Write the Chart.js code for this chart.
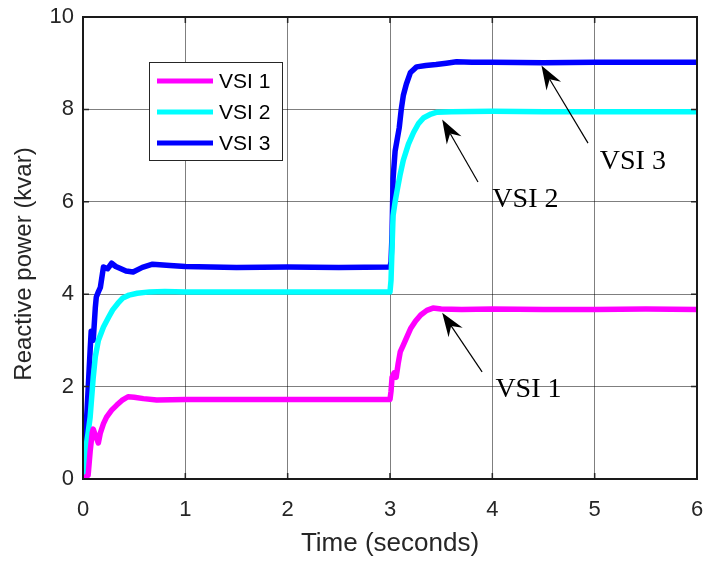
<!DOCTYPE html>
<html>
<head>
<meta charset="utf-8">
<script src="https://cdn.jsdelivr.net/npm/chart.js@4.4.1/dist/chart.umd.min.js"></script>
<style>
  html, body { margin: 0; padding: 0; background: #fff; }
  #wrap { width: 708px; height: 563px; }
</style>
</head>
<body>
<div id="wrap"><canvas id="qChart" width="708" height="563"></canvas></div>
<script>
const seriesLabels = ['VSI 1', 'VSI 2', 'VSI 3'];
const seriesColors = ['#ff00ff', '#00ffff', '#0000ff'];

// VSI 1
const vsi1Time = [0, 0.03, 0.05, 0.07, 0.09, 0.1, 0.12, 0.15, 0.17, 0.2, 0.23, 0.28, 0.33, 0.38, 0.44, 0.5, 0.59, 0.72, 1, 1.5, 2, 2.5, 3.0,
  3.01, 3.02, 3.04, 3.06, 3.08, 3.1, 3.13, 3.16, 3.2, 3.25, 3.3, 3.36, 3.42, 3.5, 3.7, 4, 4.5, 5, 5.5, 6];
const vsi1Q = [0, 0.05, 0.08, 0.6, 1.0, 1.08, 0.95, 0.78, 1.0, 1.2, 1.34, 1.49, 1.6, 1.7, 1.78, 1.77, 1.74, 1.71, 1.72, 1.72, 1.72, 1.72, 1.72,
  1.9, 2.2, 2.3, 2.2, 2.5, 2.75, 2.9, 3.05, 3.25, 3.42, 3.55, 3.65, 3.7, 3.68, 3.67, 3.68, 3.67, 3.67, 3.68, 3.67];

// VSI 2
const vsi2Time = [0, 0.03, 0.05, 0.07, 0.1, 0.12, 0.15, 0.2, 0.25, 0.29, 0.34, 0.39, 0.45, 0.53, 0.65, 0.8, 1, 1.5, 2, 2.5, 3.0,
  3.01, 3.02, 3.03, 3.05, 3.07, 3.1, 3.13, 3.18, 3.23, 3.28, 3.33, 3.4, 3.46, 3.6, 4, 4.5, 5, 5.5, 6];
const vsi2Q = [0, 0.7, 1.0, 1.34, 2.2, 2.64, 3.0, 3.29, 3.5, 3.66, 3.8, 3.92, 3.98, 4.02, 4.05, 4.06, 4.05, 4.05, 4.05, 4.05, 4.05,
  4.3, 5.0, 5.7, 6.0, 6.25, 6.6, 6.9, 7.25, 7.5, 7.7, 7.82, 7.9, 7.94, 7.95, 7.96, 7.95, 7.95, 7.95, 7.95];

// VSI 3
const vsi3Time = [0, 0.04, 0.07, 0.08, 0.09, 0.1, 0.12, 0.13, 0.15, 0.17, 0.2, 0.24, 0.28, 0.32, 0.36, 0.42, 0.49, 0.58, 0.68, 0.85, 1, 1.5, 2, 2.5, 3.0,
  3.01, 3.02, 3.03, 3.05, 3.07, 3.09, 3.11, 3.13, 3.16, 3.2, 3.26, 3.35, 3.45, 3.55, 3.65, 3.8, 4, 4.5, 5, 5.5, 6];
const vsi3Q = [0, 1.5, 2.8, 3.2, 3.15, 3.0, 3.7, 3.94, 4.05, 4.15, 4.59, 4.55, 4.67, 4.6, 4.56, 4.5, 4.48, 4.58, 4.65, 4.62, 4.6, 4.58, 4.59, 4.58, 4.59,
  4.7, 5.3, 6.5, 7.1, 7.35, 7.6, 8.0, 8.3, 8.55, 8.8, 8.92, 8.95, 8.97, 9.0, 9.03, 9.02, 9.02, 9.01, 9.02, 9.02, 9.02];

const xTicks = [0, 1, 2, 3, 4, 5, 6];
const yTicks = [0, 2, 4, 6, 8, 10];

// arrow notes in data units: tip, tail, text anchor (left, middle)
const noteLabels = ['VSI 1', 'VSI 2', 'VSI 3'];
const noteTips = [[3.51, 3.6], [3.51, 7.78], [4.48, 8.95]];
const noteTails = [[3.9, 2.32], [3.86, 6.43], [4.935, 7.27]];
const noteText = [[4.03, 1.93], [4.0, 6.04], [5.05, 6.86]];

const toPoints = (t, q) => t.map((v, i) => ({x: v, y: q[i]}));
const seriesData = [toPoints(vsi1Time, vsi1Q), toPoints(vsi2Time, vsi2Q), toPoints(vsi3Time, vsi3Q)];

const sansFont = '"Liberation Sans", Arial, Helvetica, sans-serif';
const serifFont = '"Liberation Serif", "Times New Roman", serif';

function drawArrow(ctx, x0, y0, x1, y1) {
    const ang = Math.atan2(y1 - y0, x1 - x0);
    const len = 24, half = 8.5, notch = 16;
    ctx.beginPath();
    ctx.moveTo(x0, y0);
    ctx.lineTo(x1 - Math.cos(ang) * notch, y1 - Math.sin(ang) * notch);
    ctx.stroke();
    ctx.save();
    ctx.translate(x1, y1);
    ctx.rotate(ang);
    ctx.beginPath();
    ctx.moveTo(0, 0);
    ctx.lineTo(-len, -half);
    ctx.lineTo(-notch, 0);
    ctx.lineTo(-len, half);
    ctx.closePath();
    ctx.fill();
    ctx.restore();
}

const frameAndNotes = {
    id: 'frameAndNotes',
    afterDatasetsDraw(chart) {
        const {ctx, chartArea: a, scales: {x, y}} = chart;
        ctx.save();

        // inward tick marks on all sides
        ctx.strokeStyle = '#262626';
        ctx.lineWidth = 1.5;
        ctx.beginPath();
        xTicks.forEach(v => {
            const px = x.getPixelForValue(v);
            ctx.moveTo(px, a.bottom); ctx.lineTo(px, a.bottom - 6);
            ctx.moveTo(px, a.top); ctx.lineTo(px, a.top + 6);
        });
        yTicks.forEach(v => {
            const py = y.getPixelForValue(v);
            ctx.moveTo(a.left, py); ctx.lineTo(a.left + 6, py);
            ctx.moveTo(a.right, py); ctx.lineTo(a.right - 6, py);
        });
        ctx.stroke();

        // axes box
        ctx.strokeStyle = '#1a1a1a';
        ctx.lineWidth = 2;
        ctx.strokeRect(a.left, a.top, a.width, a.height);

        // y axis title (MATLAB puts it a bit lower than chart.js would)
        ctx.save();
        ctx.translate(24, 264);
        ctx.rotate(-Math.PI / 2);
        ctx.fillStyle = '#262626';
        ctx.font = '24px ' + sansFont;
        ctx.textAlign = 'center';
        ctx.textBaseline = 'middle';
        ctx.fillText('Reactive power (kvar)', 0, 0);
        ctx.restore();

        // arrows with labels
        ctx.strokeStyle = '#000';
        ctx.fillStyle = '#000';
        ctx.lineWidth = 1.2;
        ctx.font = '28px ' + serifFont;
        ctx.textAlign = 'left';
        ctx.textBaseline = 'middle';
        noteLabels.forEach((label, i) => {
            drawArrow(ctx,
                x.getPixelForValue(noteTails[i][0]), y.getPixelForValue(noteTails[i][1]),
                x.getPixelForValue(noteTips[i][0]), y.getPixelForValue(noteTips[i][1]));
            ctx.fillText(label, x.getPixelForValue(noteText[i][0]), y.getPixelForValue(noteText[i][1]));
        });

        // legend box
        const lx = 149, ly = 62, lw = 133, lh = 98;
        ctx.fillStyle = '#fff';
        ctx.fillRect(lx, ly, lw, lh);
        ctx.strokeStyle = '#262626';
        ctx.lineWidth = 1;
        ctx.strokeRect(lx + 0.5, ly + 0.5, lw, lh);
        ctx.font = '21px ' + sansFont;
        ctx.textBaseline = 'middle';
        seriesLabels.forEach((label, i) => {
            const yy = 81 + i * 31;
            ctx.strokeStyle = seriesColors[i];
            ctx.lineWidth = 5;
            ctx.beginPath();
            ctx.moveTo(157, yy);
            ctx.lineTo(213, yy);
            ctx.stroke();
            ctx.fillStyle = '#000';
            ctx.fillText(label, 219, yy + 1);
        });

        ctx.restore();
    }
};

new Chart('qChart', {
    type: 'line',
    data: {
        datasets: seriesLabels.map((label, i) => ({
            label: label,
            data: seriesData[i],
            borderColor: seriesColors[i],
            backgroundColor: seriesColors[i],
            borderWidth: 5.5,
            pointRadius: 0,
            tension: 0,
            fill: false,
            borderJoinStyle: 'round',
            borderCapStyle: 'round'
        }))
    },
    options: {
        responsive: false,
        animation: false,
        events: [],
        layout: {padding: {top: 17, right: 11, left: 0, bottom: 0}},
        plugins: {legend: {display: false}, tooltip: {enabled: false}},
        scales: {
            x: {
                type: 'linear',
                min: 0,
                max: 6,
                afterBuildTicks: s => { s.ticks = xTicks.map(v => ({value: v})); },
                afterFit: s => { s.height = 84; s.paddingLeft = 0; s.paddingRight = 0; },
                grid: {color: 'rgba(0,0,0,0.5)', lineWidth: 1, drawTicks: false},
                border: {display: false},
                ticks: {color: '#262626', font: {family: sansFont, size: 22}, padding: 18, maxRotation: 0},
                title: {display: true, text: 'Time (seconds)', color: '#262626',
                    font: {family: sansFont, size: 26}, padding: {top: 0, bottom: 4}}
            },
            y: {
                min: 0,
                max: 10,
                afterBuildTicks: s => { s.ticks = yTicks.map(v => ({value: v})); },
                afterFit: s => { s.width = 83; s.paddingTop = 0; s.paddingBottom = 0; },
                grid: {color: 'rgba(0,0,0,0.5)', lineWidth: 1, drawTicks: false},
                border: {display: false},
                ticks: {color: '#262626', font: {family: sansFont, size: 22}, padding: 9},
                title: {display: false}
            }
        }
    },
    plugins: [frameAndNotes]
});
</script>
</body>
</html>
